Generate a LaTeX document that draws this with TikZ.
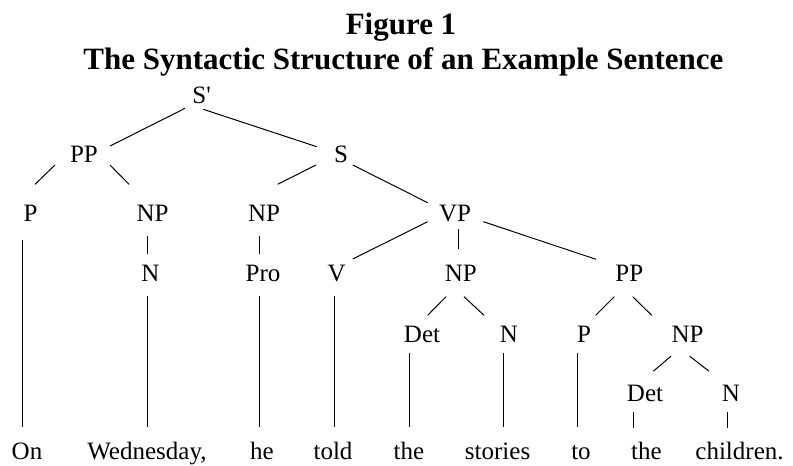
\documentclass[tikz,border=0pt]{standalone}
\usepackage{fontspec}
\setmainfont{Liberation Serif}
\newfontfamily\rawserif{Liberation Serif}
\begin{document}
\begin{tikzpicture}[x=1pt,y=-1pt,
  tn/.style={anchor=base, inner sep=0pt, font=\fontsize{25}{30}\selectfont},
  ttl/.style={anchor=base, inner sep=0pt, font=\bfseries\fontsize{31}{36}\selectfont},
  br/.style={line width=1pt}]
\useasboundingbox (0,0) rectangle (793,466);
% title
\node[ttl] (t1) at (401,34) {Figure 1};
\node[ttl] (t2) at (403.5,69) {The Syntactic Structure of an Example Sentence};
% tree labels
\node[tn] (Sp)  at (201.7,103) {{\rawserif S'}};
\node[tn] (PP1) at (84,162) {PP};
\node[tn] (S)   at (341,162) {S};
\node[tn] (P1)  at (30.7,221.5) {P};
\node[tn] (NP1) at (152.5,221.5) {NP};
\node[tn] (NP2) at (264,221.5) {NP};
\node[tn] (VP)  at (455,221.5) {VP};
\node[tn] (N1)  at (150.5,281.5) {N};
\node[tn] (Pro) at (263,281.5) {Pro};
\node[tn] (V)   at (336.7,281.5) {V};
\node[tn] (NP3) at (460.8,281.5) {NP};
\node[tn] (PP2) at (629.3,281.5) {PP};
\node[tn] (Det1) at (422,342) {Det};
\node[tn] (N2)  at (509,342) {N};
\node[tn] (P2)  at (584,342) {P};
\node[tn] (NP4) at (687.5,342) {NP};
\node[tn] (Det2) at (645,401) {Det};
\node[tn] (N3)  at (731,401) {N};
% words
\node[tn] (W1) at (27,459) {On};
\node[tn] (W2) at (147,459) {Wednesday,};
\node[tn] (W3) at (262,459) {he};
\node[tn] (W4) at (333,459) {told};
\node[tn] (W5) at (409,459) {the};
\node[tn] (W6) at (497.6,459) {stories};
\node[tn] (W7) at (581,459) {to};
\node[tn] (W8) at (646.5,459) {the};
\node[tn] (W9) at (739.5,459) {children.};
% branches
\draw[br] ([shift={(-16.7,5.3)}]Sp.base) -- ([shift={(26,-16)}]PP1.base);
\draw[br] ([shift={(1.6,6.3)}]Sp.base) -- ([shift={(-24.3,-15.3)}]S.base);
\draw[br] ([shift={(-29,3)}]PP1.base) -- ([shift={(4.3,-37.2)}]P1.base);
\draw[br] ([shift={(26,3)}]PP1.base) -- ([shift={(-23.5,-37.2)}]NP1.base);
\draw[br] ([shift={(-25,3)}]S.base) -- ([shift={(13.7,-37.2)}]NP2.base);
\draw[br] ([shift={(11.7,3)}]S.base) -- ([shift={(-27.3,-18.8)}]VP.base);
\draw[br] ([shift={(-8,18.5)}]P1.base) -- ([shift={(-4.3,-32)}]W1.base);
\draw[br] ([shift={(-4.8,14.5)}]NP1.base) -- ([shift={(-2.8,-27.2)}]N1.base);
\draw[br] ([shift={(-4.7,14.5)}]NP2.base) -- ([shift={(-3.7,-27.2)}]Pro.base);
\draw[br] ([shift={(-27.3,0.2)}]VP.base) -- ([shift={(16,-22.5)}]V.base);
\draw[br] ([shift={(3.3,7.8)}]VP.base) -- ([shift={(-2.5,-32.5)}]NP3.base);
\draw[br] ([shift={(28.3,0.2)}]VP.base) -- ([shift={(-33.3,-22.2)}]PP2.base);
\draw[br] ([shift={(-2.8,14.5)}]N1.base) -- ([shift={(0.7,-32)}]W2.base);
\draw[br] ([shift={(-3.7,14.5)}]Pro.base) -- ([shift={(-2.7,-32)}]W3.base);
\draw[br] ([shift={(-2.7,14.5)}]V.base) -- ([shift={(1,-32)}]W4.base);
\draw[br] ([shift={(-14.8,15.2)}]NP3.base) -- ([shift={(5.7,-26.7)}]Det1.base);
\draw[br] ([shift={(3.2,15.2)}]NP3.base) -- ([shift={(-25,-26.7)}]N2.base);
\draw[br] ([shift={(-15,15.2)}]PP2.base) -- ([shift={(11.7,-26.7)}]P2.base);
\draw[br] ([shift={(3.4,15.2)}]PP2.base) -- ([shift={(-35.8,-26.7)}]NP4.base);
\draw[br] ([shift={(-12.8,11)}]Det1.base) -- ([shift={(0.2,-32)}]W5.base);
\draw[br] ([shift={(-6,11)}]N2.base) -- ([shift={(5.4,-32)}]W6.base);
\draw[br] ([shift={(-6.7,11)}]P2.base) -- ([shift={(-3.7,-32)}]W7.base);
\draw[br] ([shift={(-16.5,14.2)}]NP4.base) -- ([shift={(8.3,-29.8)}]Det2.base);
\draw[br] ([shift={(2.2,14.2)}]NP4.base) -- ([shift={(-22,-29.8)}]N3.base);
\draw[br] ([shift={(-11.5,11)}]Det2.base) -- ([shift={(-13,-31)}]W8.base);
\draw[br] ([shift={(-3.3,11)}]N3.base) -- ([shift={(-11.8,-31)}]W9.base);
\end{tikzpicture}
\end{document}
